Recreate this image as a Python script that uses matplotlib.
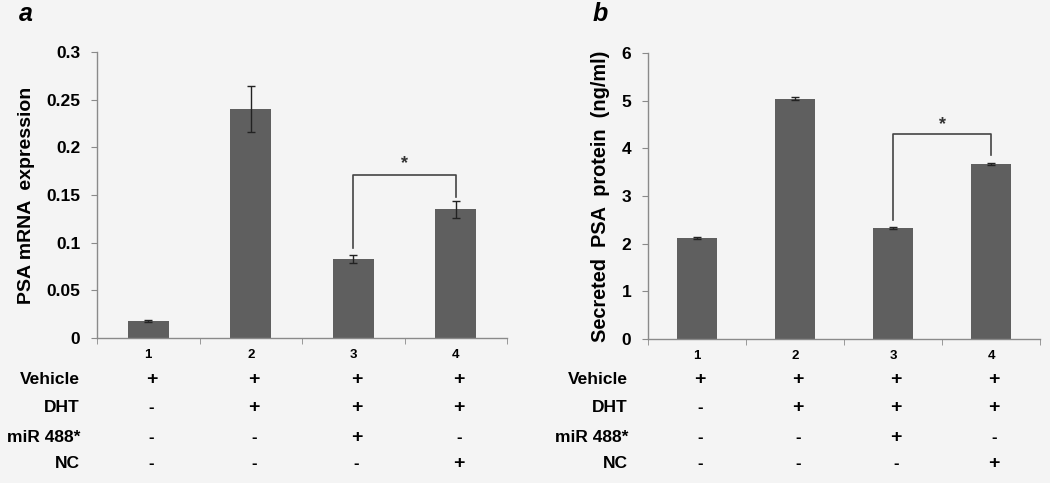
import matplotlib
matplotlib.use("Agg")
import matplotlib.pyplot as plt
import matplotlib.transforms as mtransforms

plt.rcParams["font.family"] = ["Liberation Sans", "DejaVu Sans"]
plt.rcParams["font.weight"] = "bold"

groups = [1, 2, 3, 4]
mrna = [0.018, 0.24, 0.083, 0.135]
mrna_err = [0.001, 0.024, 0.004, 0.009]
protein = [2.12, 5.04, 2.33, 3.68]
protein_err = [0.02, 0.03, 0.02, 0.02]

row_names = ["Vehicle", "DHT", "miR 488*", "NC"]
rows = [
    ["+", "+", "+", "+"],
    ["-", "+", "+", "+"],
    ["-", "-", "+", "-"],
    ["-", "-", "-", "+"],
]

bar_color = "#5f5f5f"
axis_color = "#8a8a8a"
bg = "#f4f4f4"

fig = plt.figure(figsize=(10.5, 4.83), dpi=100, facecolor=bg)
ax1 = fig.add_axes([0.0924, 0.3002, 0.3905, 0.5921])
ax2 = fig.add_axes([0.6171, 0.2981, 0.3734, 0.5922])

row_y = [0.2133, 0.1573, 0.0952, 0.0414]


def draw_panel(ax, vals, errs, ymax, ystep, yfmt, ylabel, ylsize, letter, lab_x, row_x, bracket, star_y):
    ax.set_facecolor(bg)
    ax.bar(groups, vals, width=0.4, color=bar_color, zorder=2)
    ax.errorbar(groups, vals, yerr=errs, fmt="none", ecolor="#222222",
                elinewidth=1, capsize=3, capthick=1, zorder=3)
    ax.set_xlim(0.5, 4.5)
    ax.set_ylim(0, ymax)
    ticks = [i * ystep for i in range(int(round(ymax / ystep)) + 1)]
    ax.set_yticks(ticks)
    ax.set_yticklabels([yfmt(t) for t in ticks], fontsize=12.5, fontweight="bold")
    ax.set_xticks(groups)
    ax.set_xticklabels([str(g) for g in groups], fontsize=9.5, fontweight="bold")
    ax.set_xticks([0.5, 1.5, 2.5, 3.5, 4.5], minor=True)
    ax.tick_params(axis="x", which="major", length=0, pad=8)
    ax.tick_params(axis="x", which="minor", length=4, color=axis_color, direction="out")
    ax.tick_params(axis="y", length=4, color=axis_color, pad=8)
    for s in ["top", "right"]:
        ax.spines[s].set_visible(False)
    for s in ["left", "bottom"]:
        ax.spines[s].set_color(axis_color)
        ax.spines[s].set_linewidth(1)
    ax.set_ylabel(ylabel, fontsize=ylsize, fontweight="bold", labelpad=8)

    # significance bracket between bars 3 and 4
    x3, x4 = 3, 4
    y_l, y_top, y_r = bracket
    ax.plot([x3, x3, x4, x4], [y_l, y_top, y_top, y_r], color="#444444", lw=1.2, zorder=4)
    ax.text((x3 + x4) / 2, star_y, "*", ha="center", va="center", fontsize=13,
            fontweight="bold", color="#333333")

    fig.text(lab_x, 0.972, letter, fontsize=18, fontweight="bold", style="italic",
             ha="left", va="center")

    trans = mtransforms.blended_transform_factory(ax.transData, fig.transFigure)
    for name, signs, y in zip(row_names, rows, row_y):
        fig.text(row_x, y, name, ha="right", va="center", fontsize=12.5, fontweight="bold")
        for g, sgn in zip(groups, signs):
            ax.text(g + 0.03, y, sgn, transform=trans, ha="center", va="center",
                    fontsize=14 if sgn == "+" else 12, fontweight="bold", clip_on=False)


draw_panel(ax1, mrna, mrna_err, 0.3, 0.05,
           lambda t: "0" if t == 0 else ("%.2f" % t).rstrip("0"),
           "PSA mRNA  expression", 14, "a", 0.018, 0.0762,
           (0.094, 0.171, 0.148), 0.183)
draw_panel(ax2, protein, protein_err, 6, 1, lambda t: "%d" % t,
           "Secreted  PSA  protein  (ng/ml)", 14.3, "b", 0.564, 0.598,
           (2.5, 4.3, 3.86), 4.5)

fig.savefig("out.png", dpi=100, facecolor=bg)
